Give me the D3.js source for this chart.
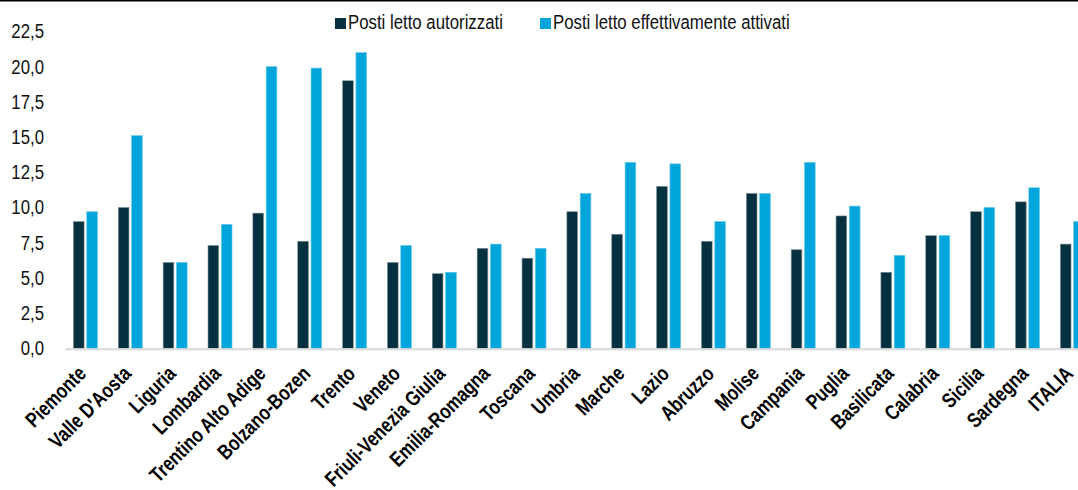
<!DOCTYPE html>
<html>
<head>
<meta charset="utf-8">
<script src="https://cdn.jsdelivr.net/npm/d3@7"></script>
<style>
  body { margin: 0; background: #fff; }
  svg { display: block; }
  .tick-lbl { font-family: "Liberation Sans", Arial, sans-serif; font-size: 21px; fill: #111; }
  .cat-lbl { font-family: "Liberation Sans", Arial, sans-serif; font-size: 21px; font-weight: bold; fill: #000; }
  .legend { font-family: "Liberation Sans", Arial, sans-serif; font-size: 21px; fill: #111; }
</style>
</head>
<body>
<svg id="chart"></svg>
<script>
// data
const regions = ["Piemonte", "Valle D'Aosta", "Liguria", "Lombardia", "Trentino Alto Adige",
  "Bolzano-Bozen", "Trento", "Veneto", "Friuli-Venezia Giulia", "Emilia-Romagna", "Toscana",
  "Umbria", "Marche", "Lazio", "Abruzzo", "Molise", "Campania", "Puglia", "Basilicata",
  "Calabria", "Sicilia", "Sardegna", "ITALIA"];
const autorizzati = [9.0, 10.0, 6.1, 7.3, 9.6, 7.6, 19.0, 6.1, 5.3, 7.1, 6.4,
  9.7, 8.1, 11.5, 7.6, 11.0, 7.0, 9.4, 5.4, 8.0, 9.7, 10.4, 7.4];
const attivati = [9.7, 15.1, 6.1, 8.8, 20.0, 19.9, 21.0, 7.3, 5.4, 7.4, 7.1,
  11.0, 13.2, 13.1, 9.0, 11.0, 13.2, 10.1, 6.6, 8.0, 10.0, 11.4, 9.0];
const seriesNames = ["Posti letto autorizzati", "Posti letto effettivamente attivati"];
const seriesColors = ["#05303f", "#00a6db"];
const strokeColors = ["#7d8f96", "#62c6ea"];
const yTicks = [0, 2.5, 5, 7.5, 10, 12.5, 15, 17.5, 20, 22.5];

const width = 1078, height = 490;
const narrow = 0.8; // the original uses a condensed face
const svg = d3.select("#chart").attr("width", width).attr("height", height);

const x0 = d3.scaleBand().domain(regions).range([63, 63 + 23 * 44.86]).padding(0);
const x1 = d3.scaleBand().domain([0, 1]).range([0, 24]).paddingInner(0.2);
const y = d3.scaleLinear().domain([0, 22.5]).range([348.3, 348.3 - 22.5 * 14.08]);

const fmt = d => d3.format(".1f")(d).replace(".", ",");

// top border
svg.append("line")
  .attr("x1", 0).attr("x2", width).attr("y1", 0.75).attr("y2", 0.75)
  .attr("stroke", "#000").attr("stroke-width", 1.5);

// y labels
svg.append("g")
  .selectAll("text")
  .data(yTicks)
  .join("text")
  .attr("class", "tick-lbl")
  .attr("transform", d => "translate(44," + y(d) + ") scale(" + narrow + ",1)")
  .attr("dy", "0.33em")
  .attr("text-anchor", "end")
  .text(fmt);

// bars
const groups = svg.append("g")
  .selectAll("g")
  .data(regions)
  .join("g")
  .attr("transform", d => "translate(" + (x0(d) + (x0.bandwidth() - 24) / 2) + ",0)");

groups.selectAll("rect")
  .data((d, i) => [autorizzati[i], attivati[i]])
  .join("rect")
  .attr("x", (d, j) => x1(j))
  .attr("width", x1.bandwidth())
  .attr("y", d => y(d))
  .attr("height", d => y(0) - y(d))
  .attr("fill", (d, j) => seriesColors[j])
  .attr("stroke", (d, j) => strokeColors[j])
  .attr("stroke-width", 0.6);

// baseline
svg.append("line")
  .attr("x1", 65).attr("x2", width)
  .attr("y1", y(0) + 1).attr("y2", y(0) + 1)
  .attr("stroke", "#d9d9d9").attr("stroke-width", 2);

// category labels
svg.append("g")
  .selectAll("text")
  .data(regions)
  .join("text")
  .attr("class", "cat-lbl")
  .attr("text-anchor", "end")
  .attr("transform", d => "translate(" + (x0(d) + x0.bandwidth() / 2 + 2) + ",375) rotate(-45) scale(" + narrow + ",1)")
  .text(d => d);

// legend
const legendX = [335, 540];
const legend = svg.append("g")
  .selectAll("g")
  .data(seriesNames)
  .join("g")
  .attr("transform", (d, i) => "translate(" + legendX[i] + ",0)");
legend.append("rect")
  .attr("x", 0).attr("y", 18).attr("width", 11).attr("height", 11)
  .attr("fill", (d, i) => seriesColors[i]);
legend.append("text")
  .attr("class", "legend")
  .attr("transform", "translate(13,29) scale(" + narrow + ",1)")
  .text(d => d);
</script>
</body>
</html>
